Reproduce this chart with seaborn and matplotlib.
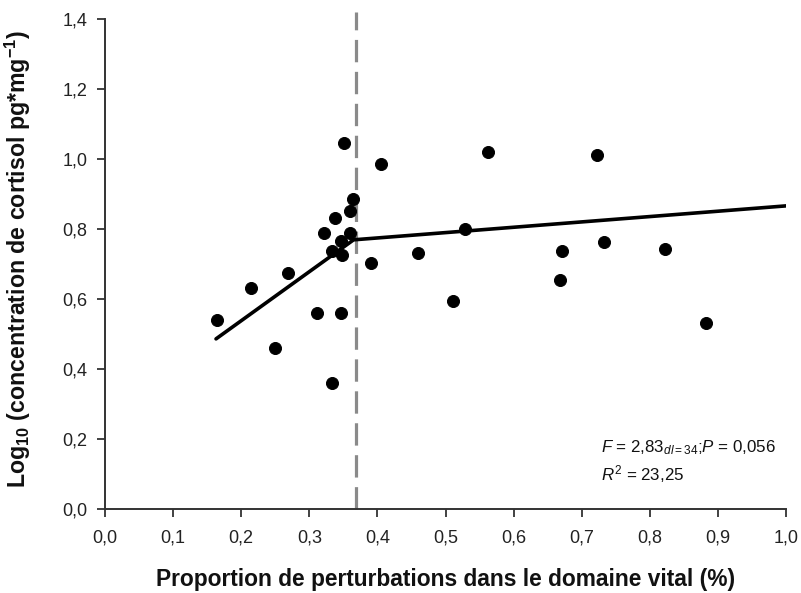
import numpy as np
import pandas as pd
import matplotlib
matplotlib.use('Agg')
import matplotlib.pyplot as plt
import seaborn as sns

# points
prop = [0.164, 0.214, 0.250, 0.269, 0.312, 0.321, 0.334, 0.334, 0.337, 0.346,
        0.347, 0.348, 0.351, 0.360, 0.360, 0.364, 0.390, 0.405, 0.460, 0.511,
        0.528, 0.563, 0.668, 0.671, 0.723, 0.733, 0.823, 0.882]
cortisol = [0.540, 0.632, 0.461, 0.675, 0.559, 0.788, 0.738, 0.359, 0.831, 0.559,
            0.767, 0.726, 1.047, 0.788, 0.852, 0.885, 0.702, 0.987, 0.731, 0.595,
            0.799, 1.021, 0.655, 0.737, 1.012, 0.764, 0.743, 0.532]

# piecewise regression
fit_x = [0.163, 0.365, 1.0]
fit_y = [0.486, 0.769, 0.866]
seuil = 0.369

xticks = np.round(np.arange(0, 1.01, 0.1), 1)
yticks = np.round(np.arange(0, 1.41, 0.2), 1)

sns.set_style('ticks')
plt.rcParams['font.family'] = ['Liberation Sans', 'DejaVu Sans']
plt.rcParams['mathtext.fontset'] = 'custom'
plt.rcParams['mathtext.rm'] = 'Liberation Sans'
plt.rcParams['mathtext.it'] = 'Liberation Sans:italic'
plt.rcParams['mathtext.bf'] = 'Liberation Sans:bold'

df = pd.DataFrame({'x': prop, 'y': cortisol})
fit = pd.DataFrame({'x': fit_x, 'y': fit_y})

fig = plt.figure(figsize=(8.01, 5.93), dpi=100)
ax = fig.add_axes([0.1311, 0.1417, 0.8502, 0.8263])

ax.axvline(seuil, ymax=1.015, color='#8a8a8a', lw=2.3, ls=(0, (7, 3)), zorder=1, clip_on=False)
sns.lineplot(data=fit, x='x', y='y', color='black', lw=2.6, ax=ax, zorder=2)
sns.scatterplot(data=df, x='x', y='y', color='black', s=75, edgecolor='black', ax=ax, zorder=3)

ax.set_xlim(0, 1.0)
ax.set_ylim(0, 1.4)
ax.set_xticks(xticks)
ax.set_yticks(yticks)
ax.set_xticklabels([f'{v:.1f}'.replace('.', ',') for v in xticks], fontsize=13, color='#222222')
ax.set_yticklabels([f'{v:.1f}'.replace('.', ',') for v in yticks], fontsize=13, color='#222222')
ax.tick_params(direction='out', length=6, width=1.3, color='#333333')
ax.tick_params(axis='y', pad=6.5)
ax.tick_params(axis='x', pad=9)
for s in ['left', 'bottom']:
    ax.spines[s].set_linewidth(1.4)
    ax.spines[s].set_color('#333333')
sns.despine(ax=ax)

ax.set_xlabel('Proportion de perturbations dans le domaine vital (%)', fontsize=16.4,
              fontweight='bold', labelpad=15, color='#111111')
ax.set_ylabel(r'Log$_{\mathbf{10}}$ (concentration de cortisol pg*mg$^{\mathbf{-1}}$)',
              fontsize=16.7, fontweight='bold', color='#111111')
ax.yaxis.set_label_coords(-0.106, 0.51)

ax.text(0.728, 0.163, r'$F$ = 2,83$_{dl=34}$;$P$ = 0,056', fontsize=12.2, color='#111111')
ax.text(0.728, 0.083, r'$R^2$ = 23,25', fontsize=12.2, color='#111111')

fig.savefig('out.png', dpi=100)
